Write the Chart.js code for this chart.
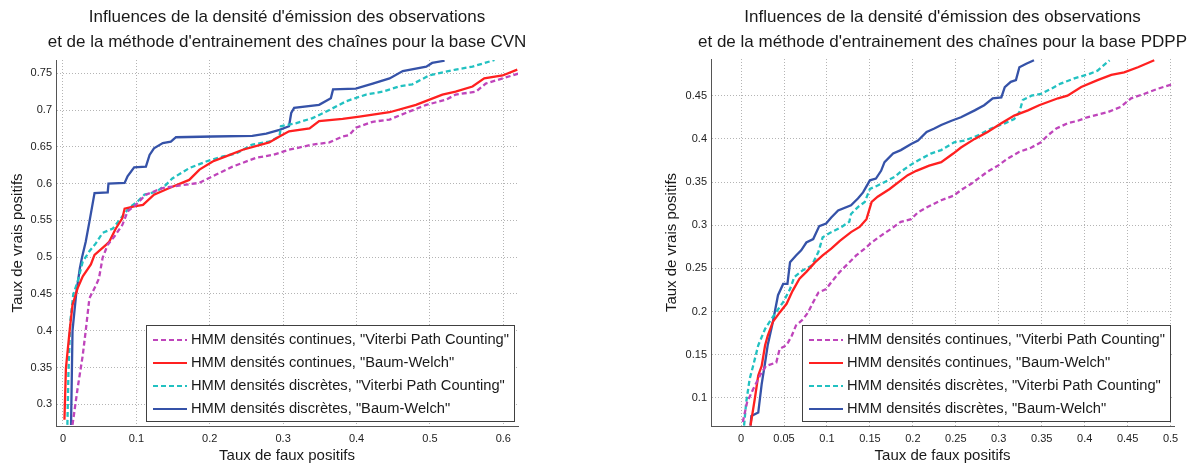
<!DOCTYPE html>
<html>
<head>
<meta charset="utf-8">
<script src="https://cdn.jsdelivr.net/npm/chart.js@4/dist/chart.umd.min.js"></script>
<style>
  html, body { margin: 0; padding: 0; background: #fff; }
  #wrap { position: relative; width: 1189px; height: 465px; overflow: hidden; }
  canvas { position: absolute; top: 0; }
  #cvn { left: 0; }
  #pdpp { left: 595px; }
</style>
</head>
<body>
<div id="wrap">
  <canvas id="cvn" width="595" height="465"></canvas>
  <canvas id="pdpp" width="594" height="465"></canvas>
</div>
<script>
// libellés des courbes (même ordre pour les deux bases)
const seriesLabels = [
  'HMM densités continues, "Viterbi Path Counting"',
  'HMM densités continues, "Baum-Welch"',
  'HMM densités discrètes, "Viterbi Path Counting"',
  'HMM densités discrètes, "Baum-Welch"'
]

const cvnTitle = ['Influences de la densité d\'émission des observations', 'et de la méthode d\'entrainement des chaînes pour la base CVN']
const pdppTitle = ['Influences de la densité d\'émission des observations', 'et de la méthode d\'entrainement des chaînes pour la base PDPP']
const xAxisTitle = 'Taux de faux positifs'
const yAxisTitle = 'Taux de vrais positifs'

const cvnXTicks = [0, 0.1, 0.2, 0.3, 0.4, 0.5, 0.6]
const cvnYTicks = [0.3, 0.35, 0.4, 0.45, 0.5, 0.55, 0.6, 0.65, 0.7, 0.75]
const pdppXTicks = [0, 0.05, 0.1, 0.15, 0.2, 0.25, 0.3, 0.35, 0.4, 0.45, 0.5]
const pdppYTicks = [0.1, 0.15, 0.2, 0.25, 0.3, 0.35, 0.4, 0.45]

// base CVN : [taux faux positifs, taux vrais positifs]
const cvnContVPC = [[0.013,0.272],[0.020,0.322],[0.027,0.367],[0.031,0.40],[0.036,0.444],[0.045,0.462],[0.049,0.471],[0.054,0.499],[0.061,0.517],[0.070,0.528],[0.081,0.544],[0.088,0.562],[0.099,0.571],[0.113,0.585],[0.136,0.594],[0.163,0.598],[0.186,0.601],[0.208,0.612],[0.231,0.623],[0.263,0.635],[0.286,0.639],[0.308,0.646],[0.340,0.653],[0.363,0.656],[0.381,0.664],[0.390,0.666],[0.399,0.676],[0.422,0.684],[0.445,0.687],[0.467,0.696],[0.495,0.707],[0.522,0.714],[0.535,0.721],[0.563,0.725],[0.576,0.736],[0.599,0.743],[0.622,0.750]]
const cvnContBW = [[0.002,0.279],[0.004,0.349],[0.009,0.399],[0.013,0.435],[0.020,0.458],[0.027,0.474],[0.038,0.490],[0.043,0.503],[0.059,0.517],[0.063,0.521],[0.072,0.539],[0.081,0.553],[0.084,0.566],[0.097,0.569],[0.109,0.571],[0.124,0.585],[0.145,0.594],[0.172,0.605],[0.186,0.619],[0.204,0.630],[0.222,0.637],[0.245,0.646],[0.281,0.656],[0.295,0.664],[0.308,0.671],[0.336,0.675],[0.349,0.685],[0.381,0.688],[0.404,0.691],[0.445,0.697],[0.481,0.707],[0.517,0.721],[0.535,0.725],[0.558,0.732],[0.574,0.743],[0.599,0.747],[0.619,0.755]]
const cvnDiscVPC = [[0.006,0.272],[0.0075,0.345],[0.010,0.413],[0.014,0.449],[0.020,0.467],[0.027,0.494],[0.036,0.508],[0.045,0.519],[0.054,0.533],[0.068,0.539],[0.079,0.553],[0.090,0.567],[0.102,0.576],[0.111,0.585],[0.127,0.589],[0.140,0.598],[0.149,0.607],[0.172,0.621],[0.195,0.630],[0.218,0.637],[0.236,0.641],[0.258,0.653],[0.281,0.657],[0.295,0.664],[0.297,0.678],[0.317,0.682],[0.340,0.689],[0.363,0.700],[0.386,0.712],[0.413,0.721],[0.436,0.725],[0.458,0.732],[0.476,0.735],[0.499,0.747],[0.535,0.755],[0.558,0.759],[0.588,0.768]]
const cvnDiscBW = [[0.011,0.272],[0.013,0.40],[0.018,0.45],[0.023,0.485],[0.026,0.50],[0.031,0.521],[0.036,0.548],[0.043,0.587],[0.061,0.588],[0.062,0.600],[0.084,0.601],[0.088,0.610],[0.097,0.622],[0.113,0.623],[0.118,0.639],[0.124,0.648],[0.136,0.655],[0.147,0.657],[0.154,0.663],[0.204,0.664],[0.258,0.665],[0.277,0.668],[0.295,0.673],[0.308,0.678],[0.311,0.696],[0.315,0.703],[0.349,0.707],[0.365,0.716],[0.368,0.728],[0.399,0.729],[0.422,0.736],[0.445,0.743],[0.463,0.753],[0.495,0.759],[0.503,0.764],[0.520,0.767]]

// base PDPP
const pdppContVPC = [[0.002,0.072],[0.007,0.095],[0.014,0.110],[0.022,0.126],[0.029,0.137],[0.041,0.141],[0.045,0.157],[0.053,0.161],[0.059,0.172],[0.064,0.184],[0.072,0.191],[0.078,0.199],[0.084,0.211],[0.090,0.222],[0.099,0.226],[0.105,0.234],[0.115,0.246],[0.124,0.255],[0.134,0.265],[0.144,0.273],[0.152,0.280],[0.163,0.288],[0.175,0.296],[0.186,0.304],[0.198,0.307],[0.206,0.315],[0.217,0.321],[0.233,0.329],[0.247,0.334],[0.258,0.342],[0.268,0.348],[0.276,0.354],[0.287,0.362],[0.299,0.369],[0.310,0.377],[0.324,0.385],[0.338,0.390],[0.349,0.396],[0.357,0.404],[0.367,0.412],[0.380,0.418],[0.392,0.421],[0.403,0.425],[0.427,0.431],[0.442,0.437],[0.454,0.447],[0.469,0.452],[0.485,0.458],[0.504,0.464]]
const pdppContBW = [[0.011,0.068],[0.016,0.099],[0.020,0.126],[0.024,0.137],[0.028,0.161],[0.031,0.172],[0.037,0.188],[0.045,0.199],[0.053,0.209],[0.060,0.224],[0.068,0.238],[0.076,0.246],[0.086,0.257],[0.095,0.265],[0.105,0.273],[0.115,0.282],[0.128,0.292],[0.138,0.298],[0.146,0.307],[0.152,0.327],[0.159,0.333],[0.173,0.342],[0.186,0.352],[0.194,0.358],[0.204,0.363],[0.219,0.369],[0.233,0.373],[0.247,0.383],[0.256,0.390],[0.272,0.400],[0.287,0.408],[0.303,0.418],[0.318,0.427],[0.334,0.433],[0.347,0.439],[0.369,0.447],[0.380,0.450],[0.396,0.460],[0.415,0.468],[0.431,0.474],[0.446,0.477],[0.462,0.483],[0.481,0.491]]
const pdppDiscVPC = [[0.0035,0.068],[0.006,0.095],[0.010,0.122],[0.014,0.137],[0.020,0.161],[0.028,0.180],[0.035,0.191],[0.049,0.211],[0.057,0.226],[0.062,0.240],[0.072,0.248],[0.082,0.253],[0.090,0.269],[0.095,0.286],[0.105,0.292],[0.117,0.298],[0.126,0.304],[0.128,0.313],[0.136,0.321],[0.144,0.327],[0.150,0.342],[0.159,0.346],[0.179,0.356],[0.186,0.362],[0.196,0.369],[0.206,0.375],[0.221,0.383],[0.233,0.387],[0.248,0.396],[0.260,0.398],[0.276,0.404],[0.291,0.412],[0.307,0.418],[0.318,0.423],[0.324,0.431],[0.328,0.445],[0.338,0.450],[0.349,0.452],[0.361,0.458],[0.372,0.464],[0.388,0.470],[0.405,0.475],[0.415,0.479],[0.429,0.491]]
const pdppDiscBW = [[0.011,0.068],[0.012,0.079],[0.020,0.083],[0.024,0.116],[0.028,0.141],[0.031,0.161],[0.037,0.188],[0.043,0.219],[0.049,0.232],[0.054,0.232],[0.057,0.257],[0.064,0.265],[0.070,0.271],[0.076,0.280],[0.084,0.284],[0.091,0.299],[0.099,0.302],[0.105,0.309],[0.113,0.317],[0.128,0.323],[0.136,0.331],[0.142,0.338],[0.150,0.352],[0.157,0.354],[0.163,0.363],[0.167,0.373],[0.177,0.383],[0.186,0.387],[0.198,0.394],[0.206,0.398],[0.216,0.408],[0.225,0.412],[0.233,0.416],[0.245,0.421],[0.256,0.425],[0.272,0.433],[0.283,0.439],[0.293,0.447],[0.303,0.448],[0.307,0.460],[0.314,0.466],[0.320,0.468],[0.324,0.483],[0.332,0.487],[0.341,0.491]]

const fontFamily = '"Liberation Sans", Arial, Helvetica, sans-serif'
const styles = [
  { color: '#bf45bb', dash: [5, 3] },
  { color: '#ff2020', dash: [] },
  { color: '#22c1c1', dash: [5, 3] },
  { color: '#3552a8', dash: [] }
]

const toDataset = (points, i) => ({
  label: seriesLabels[i],
  data: points.map(p => ({ x: p[0], y: p[1] })),
  borderColor: styles[i].color,
  borderDash: styles[i].dash,
  borderWidth: 2.3,
  pointRadius: 0,
  tension: 0,
  fill: false
})

const titleLines = {
  id: 'titleLines',
  afterDraw: (chart, args, opts) => {
    const { ctx, chartArea: a } = chart
    ctx.save()
    ctx.font = '17px ' + fontFamily
    ctx.fillStyle = '#1a1a1a'
    ctx.textAlign = 'center'
    ctx.textBaseline = 'middle'
    opts.lines.forEach((t, i) => ctx.fillText(t, (a.left + a.right) / 2, 17 + i * 25))
    ctx.restore()
  }
}

// légende encadrée en bas à droite, dans la zone de tracé (style MATLAB)
const legendBox = {
  id: 'legendBox',
  afterDatasetsDraw: (chart) => {
    const { ctx, chartArea: a } = chart
    const sets = chart.data.datasets
    ctx.save()
    ctx.font = '14.7px ' + fontFamily
    const textW = Math.max(...sets.map(d => ctx.measureText(d.label).width))
    const w = Math.round(7 + 34 + 4 + textW + 5), h = 96
    const x = Math.round(a.right - 4 - w), y = Math.round(a.bottom - 5 - h)
    ctx.fillStyle = '#fff'
    ctx.fillRect(x, y, w, h)
    ctx.strokeStyle = '#404040'
    ctx.lineWidth = 1
    ctx.strokeRect(x + .5, y + .5, w, h)
    sets.forEach((d, i) => {
      const cy = y + 15 + i * 23
      ctx.strokeStyle = d.borderColor
      ctx.lineWidth = 2
      ctx.setLineDash(d.borderDash)
      ctx.beginPath()
      ctx.moveTo(x + 7, cy)
      ctx.lineTo(x + 41, cy)
      ctx.stroke()
      ctx.setLineDash([])
      ctx.fillStyle = '#1a1a1a'
      ctx.textBaseline = 'middle'
      ctx.fillText(d.label, x + 45, cy)
    })
    ctx.restore()
  }
}

const makeChart = (id, series, title, xTicks, yTicks, xRange, yRange, area) => {
  const tickFont = { family: fontFamily, size: 11 }
  const axisFont = { family: fontFamily, size: 15 }
  const fmt = v => String(+(+v).toFixed(3))
  const canvas = document.getElementById(id)

  return new Chart(canvas.getContext('2d'), {
    type: 'line',
    data: { datasets: series.map(toDataset) },
    options: {
      responsive: false,
      animation: false,
      events: [],
      layout: {
        padding: { left: 0, top: area.top, right: canvas.width - area.right, bottom: 0 }
      },
      scales: {
        x: {
          type: 'linear',
          min: xRange[0],
          max: xRange[1],
          afterBuildTicks: s => { s.ticks = xTicks.map(v => ({ value: v })) },
          afterFit: s => { s.height = canvas.height - area.bottom },
          grid: { color: '#b4b4b4', lineWidth: 1, drawTicks: false },
          border: { color: '#555', width: 1, dash: [1, 2] },
          ticks: { color: '#222', font: tickFont, padding: 6, maxRotation: 0, autoSkip: false, callback: fmt },
          title: { display: true, text: xAxisTitle, color: '#1a1a1a', font: axisFont, padding: { top: 0, bottom: 0 } }
        },
        y: {
          type: 'linear',
          min: yRange[0],
          max: yRange[1],
          afterBuildTicks: s => { s.ticks = yTicks.map(v => ({ value: v })) },
          afterFit: s => { s.width = area.left },
          grid: { color: '#b4b4b4', lineWidth: 1, drawTicks: false },
          border: { color: '#555', width: 1, dash: [1, 2] },
          ticks: { color: '#222', font: tickFont, padding: 4, autoSkip: false, callback: fmt },
          title: { display: true, text: yAxisTitle, color: '#1a1a1a', font: axisFont, padding: { top: area.yTitle - 9, bottom: 0 } }
        }
      },
      plugins: {
        legend: { display: false },
        tooltip: { enabled: false },
        titleLines: { lines: title }
      }
    },
    plugins: [titleLines, legendBox]
  })
}

makeChart('cvn', [cvnContVPC, cvnContBW, cvnDiscVPC, cvnDiscBW], cvnTitle, cvnXTicks, cvnYTicks,
  [-0.0095, 0.62], [0.2705, 0.768], { left: 56, right: 518, top: 60, bottom: 426, yTitle: 18 })

makeChart('pdpp', [pdppContVPC, pdppContBW, pdppDiscVPC, pdppDiscBW], pdppTitle, pdppXTicks, pdppYTicks,
  [-0.035, 0.504], [0.0675, 0.4925], { left: 116, right: 579, top: 59, bottom: 426, yTitle: 77 })
</script>
</body>
</html>
